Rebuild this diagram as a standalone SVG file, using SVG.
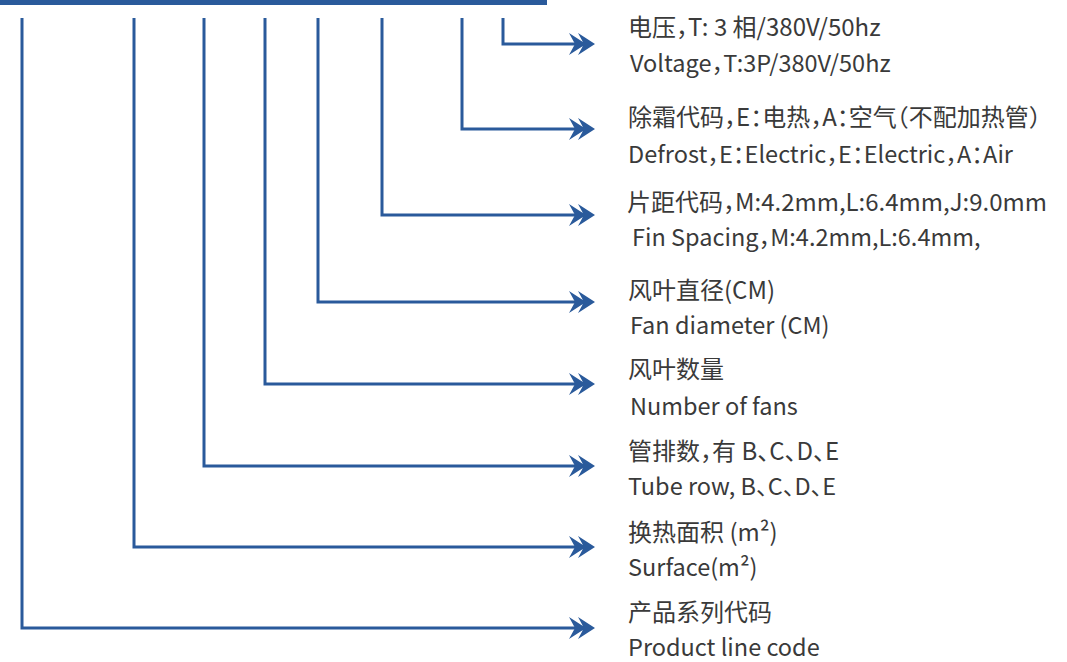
<svg xmlns="http://www.w3.org/2000/svg" width="1067" height="662" viewBox="0 0 1067 662">
<defs>
<style>
.ln{fill:none;stroke:#2a5a9b;stroke-width:3;stroke-linejoin:miter}
.ah{fill:#2a5a9b}
.t{font-family:"Noto Sans CJK SC","Noto Sans",sans-serif;font-size:24px;fill:#3a3a3a;font-feature-settings:"halt"}
.e{font-size:23.5px}
</style>
<symbol id="arr" overflow="visible">
<path class="ah" d="M-26,-11 L-9,0 L-26,11 L-20,0 Z M-17,-11 L0,0 L-17,11 L-11,0 Z"/>
</symbol>
</defs>
<rect x="0" y="0" width="547" height="5" fill="#2a5a9b"/>
<g id="connectors">
<polyline class="ln" points="503,18 503,44 590,44"/>
<polyline class="ln" points="462,18 462,129 590,129"/>
<polyline class="ln" points="382,18 382,215 590,215"/>
<polyline class="ln" points="318,18 318,302 590,302"/>
<polyline class="ln" points="265,18 265,384 590,384"/>
<polyline class="ln" points="204,18 204,466 590,466"/>
<polyline class="ln" points="134,18 134,547 590,547"/>
<polyline class="ln" points="22,18 22,628 590,628"/>
<use href="#arr" x="595" y="44"/>
<use href="#arr" x="595" y="129"/>
<use href="#arr" x="595" y="215"/>
<use href="#arr" x="595" y="302"/>
<use href="#arr" x="595" y="384"/>
<use href="#arr" x="595" y="466"/>
<use href="#arr" x="595" y="547"/>
<use href="#arr" x="595" y="628"/>
</g>
<g id="n1"><text class="t" x="628" y="36">电压，T: 3 相/380V/50hz</text><text class="t e" x="630" y="72">Voltage，T:3P/380V/50hz</text></g>
<g id="n2"><text class="t" x="628" y="126">除霜代码，E：电热，A：空气（不配加热管）</text><text class="t e" x="628" y="163">Defrost，E：Electric，E：Electric，A：Air</text></g>
<g id="n3"><text class="t" x="627" y="211">片距代码，M:4.2mm,L:6.4mm,J:9.0mm</text><text class="t e" x="632" y="246">Fin Spacing，M:4.2mm,L:6.4mm,</text></g>
<g id="n4"><text class="t" x="628" y="299">风叶直径(CM)</text><text class="t e" x="630" y="334">Fan diameter (CM)</text></g>
<g id="n5"><text class="t" x="628" y="378">风叶数量</text><text class="t e" x="630" y="415">Number of fans</text></g>
<g id="n6"><text class="t" x="628" y="460">管排数，有 B、C、D、E</text><text class="t e" x="628" y="495">Tube row, B、C、D、E</text></g>
<g id="n7"><text class="t" x="628" y="541">换热面积 (m²)</text><text class="t e" x="628" y="576">Surface(m²)</text></g>
<g id="n8"><text class="t" x="628" y="621">产品系列代码</text><text class="t e" x="628" y="656">Product line code</text></g>
</svg>
